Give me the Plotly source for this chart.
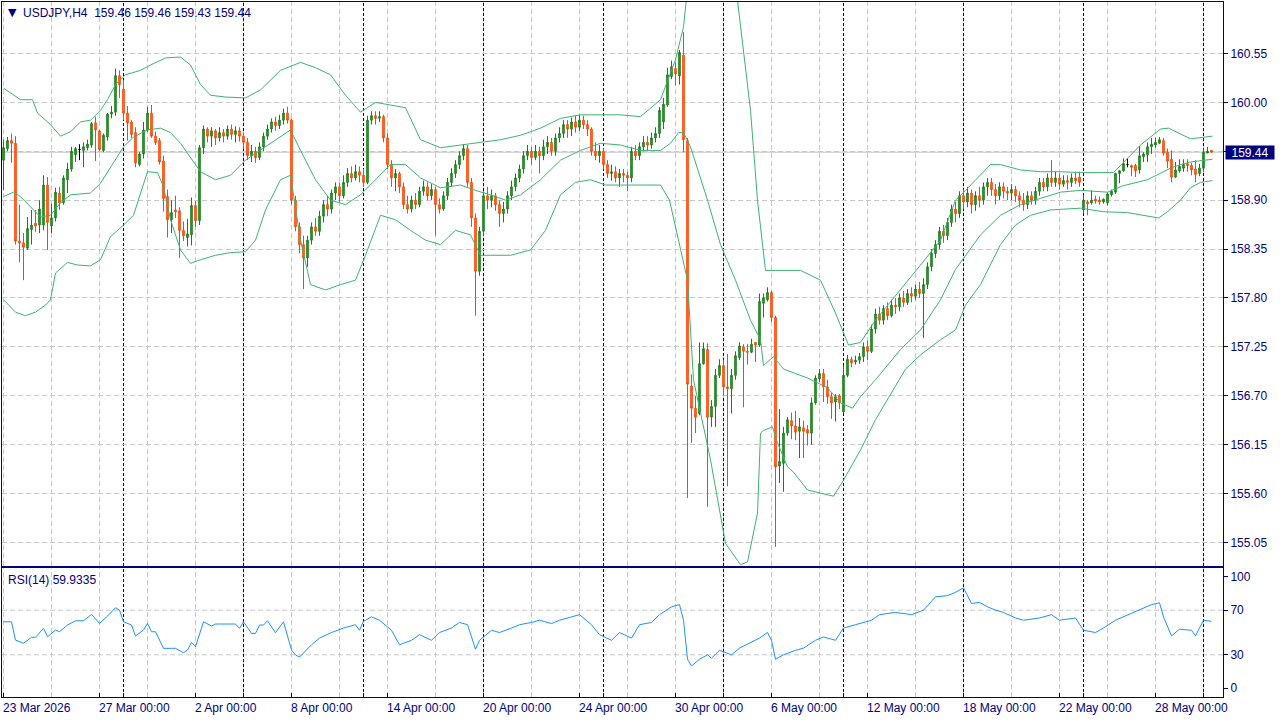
import plotly.graph_objects as go

# ---------------- data (USDJPY H4) ----------------
bar_open = [
 159.35,159.48,159.57,159.54,158.44,158.42,158.36,158.57,158.64,158.62,
 158.62,159.07,158.61,158.70,158.98,158.87,159.13,159.25,159.41,159.47,
 159.46,159.49,159.52,159.77,159.68,159.46,159.61,159.87,159.89,160.30,
 160.15,159.88,159.78,159.66,159.30,159.42,159.69,159.88,159.62,159.57,
 159.34,158.94,158.68,158.79,158.78,158.56,158.48,158.51,158.84,158.67,
 159.49,159.70,159.62,159.68,159.60,159.66,159.62,159.70,159.64,159.68,
 159.62,159.55,159.40,159.45,159.38,159.50,159.62,159.70,159.78,159.74,
 159.80,159.88,159.80,158.90,158.60,158.40,158.25,158.45,158.60,158.55,
 158.72,158.85,158.80,158.98,159.05,158.95,159.10,159.20,159.15,159.22,
 159.18,159.10,159.80,159.85,159.82,159.84,159.60,159.30,159.15,159.20,
 159.05,158.85,158.80,158.90,158.85,159.00,159.05,158.95,159.02,158.85,
 158.80,158.95,159.10,159.20,159.30,159.40,159.48,159.10,158.70,158.10,
 158.55,158.95,158.90,158.95,158.85,158.75,158.80,158.95,159.05,159.15,
 159.25,159.40,159.45,159.38,159.45,159.40,159.50,159.55,159.45,159.60,
 159.65,159.75,159.70,159.78,159.72,159.80,159.75,159.70,159.45,159.40,
 159.45,159.30,159.20,159.22,159.15,159.20,159.18,159.15,159.45,159.40,
 159.50,159.55,159.52,159.60,159.65,159.78,159.97,160.29,160.38,160.30,
 160.53,159.57,156.81,156.56,156.50,157.06,157.22,156.46,156.58,156.93,
 157.04,156.80,156.78,156.93,157.13,157.25,157.20,157.19,157.30,157.27,
 157.74,157.78,157.86,157.58,155.91,155.94,156.28,156.42,156.36,156.30,
 156.34,156.32,156.28,156.62,156.89,156.95,156.80,156.69,156.63,156.70,
 156.52,156.93,157.11,157.08,157.10,157.14,157.25,157.20,157.45,157.62,
 157.55,157.68,157.60,157.72,157.70,157.80,157.75,157.85,157.82,157.90,
 157.85,157.95,158.15,158.30,158.40,158.55,158.50,158.65,158.80,158.75,
 158.95,158.88,158.98,158.85,158.95,158.90,159.05,159.10,159.02,158.95,
 159.05,159.00,158.98,159.02,158.95,158.90,158.85,158.95,158.90,159.00,
 159.10,159.05,159.15,159.10,159.15,159.08,159.12,159.10,159.15,159.16,
 158.79,158.88,158.87,158.91,158.90,158.88,158.87,158.96,158.99,159.20,
 159.23,159.30,159.29,159.29,159.24,159.39,159.41,159.50,159.52,159.54,
 159.57,159.44,159.36,159.16,159.23,159.26,159.31,159.29,159.25,159.20,
 159.26,159.43,159.46]

bar_close = [
 159.49,159.57,159.54,158.44,158.42,158.37,158.58,158.62,158.61,158.80,
 159.07,158.65,158.70,158.99,158.87,159.15,159.25,159.45,159.48,159.47,
 159.50,159.53,159.76,159.69,159.47,159.63,159.87,159.89,160.30,160.20,
 159.88,159.77,159.64,159.32,159.42,159.69,159.88,159.62,159.55,159.33,
 158.92,158.68,158.76,158.77,158.56,158.50,158.52,158.84,158.67,159.49,
 159.70,159.62,159.68,159.60,159.66,159.62,159.70,159.64,159.68,159.62,
 159.55,159.40,159.45,159.38,159.50,159.62,159.70,159.78,159.74,159.80,
 159.88,159.80,158.90,158.60,158.40,158.25,158.45,158.60,158.55,158.72,
 158.85,158.80,158.98,159.05,158.95,159.10,159.20,159.15,159.22,159.18,
 159.10,159.80,159.85,159.82,159.84,159.60,159.30,159.15,159.20,159.05,
 158.85,158.80,158.90,158.85,159.00,159.05,158.95,159.02,158.85,158.80,
 158.95,159.10,159.20,159.30,159.40,159.48,159.10,158.70,158.10,158.55,
 158.95,158.90,158.95,158.85,158.75,158.80,158.95,159.05,159.15,159.25,
 159.40,159.45,159.38,159.45,159.40,159.50,159.55,159.45,159.60,159.65,
 159.75,159.70,159.78,159.72,159.80,159.75,159.70,159.45,159.40,159.45,
 159.30,159.20,159.22,159.15,159.20,159.18,159.15,159.45,159.40,159.50,
 159.55,159.52,159.60,159.65,159.91,159.98,160.31,160.40,160.32,160.56,
 159.58,156.83,156.56,156.46,157.06,157.23,156.46,156.58,156.93,157.04,
 156.80,156.78,156.93,157.15,157.26,157.20,157.19,157.28,157.27,157.76,
 157.80,157.86,157.58,155.90,155.96,156.28,156.43,156.36,156.29,156.35,
 156.30,156.28,156.62,156.90,156.95,156.80,156.69,156.62,156.69,156.62,
 156.93,157.11,157.07,157.10,157.14,157.25,157.20,157.45,157.62,157.55,
 157.68,157.60,157.72,157.70,157.80,157.75,157.85,157.82,157.90,157.85,
 157.95,158.15,158.30,158.40,158.55,158.50,158.65,158.80,158.75,158.95,
 158.88,158.98,158.85,158.95,158.90,159.05,159.10,159.02,158.95,159.05,
 159.00,158.98,159.02,158.95,158.90,158.85,158.95,158.90,159.00,159.10,
 159.05,159.15,159.10,159.15,159.08,159.12,159.10,159.15,159.12,159.10,
 158.90,158.86,158.90,158.89,158.88,158.91,158.97,159.00,159.20,159.23,
 159.31,159.30,159.27,159.23,159.40,159.42,159.50,159.53,159.55,159.58,
 159.43,159.34,159.16,159.24,159.28,159.30,159.29,159.24,159.19,159.26,
 159.44,159.45,159.44]

bar_high = [
 159.58,159.61,159.65,159.62,158.85,158.53,158.71,158.79,158.79,158.90,
 159.18,159.16,158.86,159.04,159.05,159.18,159.32,159.50,159.50,159.53,
 159.55,159.58,159.78,159.84,159.69,159.65,159.88,159.96,160.38,160.36,
 160.25,159.96,159.80,159.72,159.44,159.78,159.95,159.97,159.67,159.60,
 159.40,159.02,158.90,158.95,158.82,158.66,158.69,158.93,158.89,159.52,
 159.74,159.72,159.72,159.70,159.72,159.70,159.74,159.75,159.73,159.72,
 159.66,159.60,159.52,159.50,159.55,159.66,159.75,159.82,159.84,159.86,
 159.93,159.95,159.82,158.95,158.65,158.50,158.50,158.65,158.70,158.78,
 158.90,158.95,159.02,159.10,159.10,159.18,159.26,159.28,159.30,159.28,
 159.25,159.85,159.90,159.90,159.90,159.86,159.65,159.35,159.25,159.22,
 159.10,158.95,158.95,158.98,159.05,159.12,159.10,159.08,159.05,158.92,
 159.00,159.15,159.26,159.35,159.45,159.53,159.52,159.15,158.75,158.60,
 159.00,159.05,159.02,158.98,158.90,158.88,159.00,159.12,159.20,159.30,
 159.45,159.52,159.50,159.52,159.50,159.58,159.62,159.60,159.65,159.72,
 159.80,159.80,159.83,159.85,159.86,159.85,159.80,159.72,159.55,159.52,
 159.48,159.35,159.30,159.28,159.25,159.25,159.22,159.50,159.52,159.55,
 159.62,159.62,159.66,159.72,159.95,160.05,160.39,160.47,160.45,160.59,
 160.79,159.60,156.94,156.70,157.30,157.30,157.29,156.65,157.00,157.11,
 157.10,157.17,157.00,157.20,157.30,157.28,157.28,157.34,157.30,157.85,
 157.85,157.92,157.88,157.60,156.55,156.35,156.46,156.51,156.53,156.45,
 156.42,156.37,156.68,156.93,157.00,157.00,156.88,156.73,156.72,156.72,
 157.04,157.16,157.14,157.15,157.18,157.30,157.32,157.50,157.68,157.70,
 157.72,157.75,157.78,157.80,157.85,157.88,157.90,157.92,157.95,157.98,
 158.02,158.20,158.35,158.45,158.60,158.62,158.70,158.85,158.88,159.00,
 159.02,159.05,159.02,159.00,159.05,159.10,159.15,159.15,159.08,159.10,
 159.10,159.05,159.08,159.06,159.00,158.98,159.00,159.00,159.05,159.15,
 159.15,159.20,159.35,159.22,159.20,159.18,159.18,159.20,159.22,159.22,
 158.96,158.90,159.01,158.95,158.94,158.92,158.99,159.02,159.21,159.24,
 159.37,159.37,159.30,159.31,159.51,159.44,159.55,159.60,159.60,159.61,
 159.60,159.48,159.46,159.33,159.36,159.36,159.36,159.32,159.35,159.31,
 159.48,159.50,159.46]

bar_low = [
 159.01,159.45,159.32,158.40,158.20,158.00,158.34,158.40,158.54,158.53,
 158.56,158.34,158.53,158.66,158.79,158.85,158.98,159.22,159.33,159.35,
 159.27,159.46,159.49,159.34,159.45,159.44,159.57,159.82,159.85,160.05,
 159.80,159.57,159.60,159.27,159.28,159.37,159.67,159.60,159.52,159.30,
 158.77,158.48,158.53,158.70,158.25,158.44,158.38,158.39,158.60,158.62,
 159.42,159.55,159.50,159.52,159.56,159.55,159.58,159.58,159.55,159.56,
 159.48,159.35,159.33,159.32,159.35,159.45,159.58,159.66,159.68,159.70,
 159.75,159.76,158.85,158.55,158.30,157.90,158.15,158.40,158.50,158.50,
 158.65,158.72,158.75,158.90,158.88,158.92,159.05,159.10,159.12,159.10,
 159.05,159.08,159.75,159.75,159.78,159.55,159.25,159.05,159.00,158.98,
 158.80,158.75,158.76,158.80,158.82,158.95,158.90,158.90,158.50,158.75,
 158.78,158.90,159.05,159.15,159.25,159.35,159.05,158.60,157.60,158.05,
 158.50,158.80,158.82,158.78,158.60,158.65,158.75,158.90,159.00,159.10,
 159.20,159.35,159.30,159.35,159.20,159.35,159.42,159.40,159.40,159.55,
 159.60,159.60,159.62,159.66,159.68,159.70,159.62,159.40,159.35,159.32,
 159.25,159.15,159.12,159.10,159.05,159.10,159.00,159.10,159.35,159.35,
 159.45,159.45,159.48,159.55,159.60,159.70,159.95,160.26,160.19,160.20,
 159.44,155.55,156.17,156.28,156.48,157.05,155.45,156.35,156.35,156.90,
 156.70,155.68,156.50,156.88,157.10,156.57,157.05,157.18,157.08,157.25,
 157.58,157.76,157.53,155.00,155.72,155.62,156.25,156.21,156.20,156.00,
 156.00,156.14,156.15,156.60,156.85,156.63,156.61,156.44,156.41,156.55,
 156.50,156.91,157.02,157.05,157.06,157.08,157.10,157.18,157.40,157.50,
 157.50,157.55,157.58,157.62,157.65,157.70,157.72,157.75,157.78,157.80,
 157.35,157.90,158.10,158.25,158.35,158.42,158.45,158.60,158.65,158.70,
 158.80,158.82,158.75,158.78,158.82,158.85,158.95,158.95,158.85,158.90,
 158.92,158.90,158.90,158.88,158.82,158.78,158.80,158.85,158.85,158.95,
 159.00,159.00,159.05,159.05,159.02,159.05,159.02,159.05,159.08,159.05,
 158.75,158.73,158.85,158.86,158.85,158.86,158.84,158.94,158.97,159.09,
 159.22,159.27,159.17,159.16,159.20,159.33,159.33,159.42,159.49,159.53,
 159.40,159.26,159.10,159.15,159.21,159.22,159.22,159.18,159.10,159.17,
 159.22,159.43,159.43]

# Bollinger bands (20, 2) read at sample bars
bb_upper_bar = [0,4.25,7.25,8.5,11.75,14.25,16.75,19.25,21.75,24.25,26,28,30.5,34.25,36.75,40.5,44.25,46.75,
 49.25,51.75,55.5,60.5,64.25,69.25,74.25,78,81.75,85.5,89.25,93,96.75,100.5,104.25,109.25,114.25,119.25,
 124.25,129.25,134.25,139.25,144.25,149.25,154.25,159.25,164.25,168,170,171.75,174.25,178,181.25,183.5,
 185,186.75,188.5,190.5,193,199.25,204.25,208,211.25,214.25,218,224.25,229.25,234.25,238,240.5,243,
 246.75,249.25,254.25,259.25,264.25,269.25,277.5,284.25,289.25,291.25,296.75,302.25]
bb_upper = [160.16,160.03,160.03,159.88,159.75,159.62,159.67,159.78,159.80,159.91,160.03,160.20,160.31,160.36,
 160.42,160.50,160.51,160.42,160.20,160.08,160.06,160.05,160.14,160.36,160.45,160.39,160.31,160.08,159.89,
 160.00,159.97,159.94,159.58,159.49,159.52,159.55,159.58,159.63,159.71,159.82,159.86,159.86,159.86,159.84,
 160.03,160.48,160.85,161.60,162.50,162.95,162.28,161.15,160.59,159.91,158.90,158.11,158.11,158.11,158.00,
 157.63,157.27,157.30,157.55,157.89,158.17,158.45,158.90,159.01,159.13,159.30,159.30,159.24,159.22,159.22,
 159.21,159.21,159.52,159.70,159.71,159.59,159.62]

bb_middle_bar = [0,2.5,4.25,7.5,9.25,11.75,14.25,16.75,21.75,24.25,26.75,30,32.5,36,39.25,41.75,44.25,47.5,
 49.25,53,56.75,60.5,64.25,68,71.75,74.25,78,81.75,85.5,89.25,93,96.75,100.5,104.25,109.25,114.25,118,
 121.75,125.5,129.25,134.25,139.25,144.25,149.25,154.25,159.25,164.25,166.75,168.75,170,171.75,174.25,176,
 179.25,183,186.75,189.25,190,192.5,195,201,206,209.25,212.25,214.25,218,224.25,229.25,234.25,238,240.5,
 244.25,249.25,254.25,259.25,264.25,269.25,276,279.75,286,291.75,294.25,296.75,300,302.25]
bb_middle = [158.94,158.99,158.94,158.79,158.71,158.73,158.87,158.96,158.98,159.09,159.27,159.50,159.61,159.69,
 159.71,159.66,159.54,159.33,159.22,159.13,159.18,159.35,159.46,159.58,159.69,159.46,159.13,158.90,158.85,
 158.96,159.13,159.30,159.30,159.15,159.04,159.07,159.01,158.96,158.90,158.96,159.13,159.35,159.46,159.54,
 159.52,159.46,159.46,159.54,159.66,159.66,159.50,159.16,158.90,158.40,158.00,157.55,157.33,157.04,157.14,
 157.00,156.90,156.79,156.62,156.56,156.69,156.88,157.22,157.44,157.78,158.12,158.28,158.51,158.73,158.85,
 158.92,158.99,159.01,158.99,159.06,159.13,159.26,159.30,159.33,159.35,159.36]

bb_lower_bar = [0,3,5.5,8,10.5,11.75,13,16,18.5,21.75,24.25,26.75,30,32.5,36,38.5,40,41.75,44.25,46.75,49.25,
 53,56.75,60.5,63,65.5,69.25,71.75,74.25,76.75,80.5,84.25,88,90.5,94.25,98,101.75,105.5,109.25,113,116.75,
 119.25,121.75,126.75,131.75,135.5,139.25,143,146.75,150.5,154.25,159.25,164.25,166.5,171,172.5,176.75,
 180.5,184.25,186,188.5,189.25,190,192.25,193.5,196,197.5,201,207.5,210,214.25,218,221.75,225.5,229.25,
 234.25,238,240.5,244.25,249.25,253,256.75,261.75,269.25,275,281,288.75,291,294.25,296.75,299.25,302.25]
bb_lower = [157.78,157.64,157.60,157.64,157.72,157.78,158.08,158.20,158.17,158.16,158.23,158.49,158.62,158.73,
 159.22,159.21,159.05,158.68,158.34,158.19,158.23,158.28,158.31,158.32,158.45,158.79,159.13,159.18,158.45,
 157.95,157.89,157.95,158.00,158.28,158.73,158.68,158.56,158.45,158.40,158.56,158.51,158.28,158.28,158.28,
 158.34,158.56,158.96,159.10,159.13,159.07,159.07,159.07,159.07,158.90,158.00,156.88,155.98,155.04,154.80,
 154.83,155.38,156.28,156.31,156.35,156.17,155.90,155.84,155.64,155.57,155.75,156.09,156.43,156.71,157.00,
 157.16,157.33,157.44,157.72,157.95,158.40,158.62,158.73,158.79,158.81,158.77,158.76,158.70,158.77,158.90,
 159.04,159.10,159.12]

# RSI(14) read at sample bars
rsi_bar = [0,2,3,5,7,8,10,11,13,14,16,18,20,22,24,26,28,29,30,32,33,35,36,37,38,40,42,43,45,46,47,48,50,52,53,
 58,59,60,62,63,64,65,66,68,70,72,73,74,77,79,82,85,88,89,90,92,94,97,99,102,104,107,109,112,114,116,118,
 119,122,124,127,129,132,134,137,139,142,144,147,149,152,154,157,159,162,164,167,169,170,171,172,174,176,
 177,179,182,184,187,189,191,192,193,195,198,200,203,205,208,210,213,217,219,223,227,230,233,236,238,240,
 242,244,246,248,250,253,255,259,262,264,268,270,273,275,278,280,284,287,289,290,292,294,297,298,300,302]
rsi_value = [59.6,59.6,43.2,40.3,45.7,45.7,53.7,46.2,52.2,50.7,56.7,60.5,60.5,66.2,58.2,64.7,72.2,70.1,59.6,
 56.7,46.8,52.2,58.2,50.7,50.7,35.8,35.8,35.8,31.9,34.3,41.2,37.2,59.6,55.8,57.6,57.6,53.7,59.6,49.2,49.2,
 56.7,56.7,60.5,49.8,59.6,34.3,29.8,28,39,45,50,54,57,52,60,64,61,52,39,43,48,43,50,54,59,57,35,
 43,52,50,54,57,59,61,58,61,64,66,57,48,43,50,45,57,59,66,73,75,61,26,20,26,30,
 27,34,30,36,41,45,50,43,26,30,34,36,43,46,43,54,57,61,66,68,66,70,82,83,86,90,
 76,77,73,70,68,63,61,63,66,61,63,52,50,54,61,64,70,75,76.6,64,47,53,52,47,61,60]

# axes / labels
price_ticks = [155.05,155.60,156.15,156.70,157.25,157.80,158.35,158.90,159.45,160.00,160.55]
rsi_ticks = [0,30,70,100]
rsi_levels = [30,70]
time_label_bars = [0,24,48,72,96,120,144,168,192,216,240,264,288]
time_labels = ["23 Mar 2026","27 Mar 00:00","2 Apr 00:00","8 Apr 00:00","14 Apr 00:00","20 Apr 00:00",
               "24 Apr 00:00","30 Apr 00:00","6 May 00:00","12 May 00:00","18 May 00:00","22 May 00:00",
               "28 May 00:00"]
week_sep_bars = [30,60,90,120,150,180,210,240,270,300]
grid_bars = list(range(0, 301, 12))
last_price = 159.44
header = "USDJPY,H4  159.46 159.46 159.43 159.44"
rsi_header = "RSI(14) 59.9335"

# ---------------- styling ----------------
NAVY = "#000080"
FONT = "Liberation Sans"
BULL_LINE, BULL_FILL = "#1a7d1a", "#27a827"
BEAR_LINE, BEAR_FILL = "#ff4000", "#ff7a1a"
BAND = "#3cb371"
GRID = "#c8c8c8"
X_RANGE = [-0.375, 304.875]   # 4 px per bar, bar centres on pixel centres

bars = list(range(len(bar_close)))
inc = [i for i in bars if bar_close[i] > bar_open[i]]
dec = [i for i in bars if bar_close[i] < bar_open[i]]
doj = [i for i in bars if bar_close[i] == bar_open[i]]


def candles(idx, lc, fc):
    sty = dict(line=dict(color=lc, width=1), fillcolor=fc)
    return go.Candlestick(
        x=[bars[i] for i in idx], open=[bar_open[i] for i in idx],
        high=[bar_high[i] for i in idx], low=[bar_low[i] for i in idx],
        close=[bar_close[i] for i in idx], increasing=sty, decreasing=sty,
        whiskerwidth=0, xaxis="x", yaxis="y", hoverinfo="skip", showlegend=False)


fig = go.Figure()
for xs, ys in ((bb_upper_bar, bb_upper), (bb_middle_bar, bb_middle), (bb_lower_bar, bb_lower)):
    fig.add_trace(go.Scatter(x=xs, y=ys, mode="lines", line=dict(color=BAND, width=1),
                             xaxis="x", yaxis="y", hoverinfo="skip", showlegend=False))
fig.add_trace(candles(inc, BULL_LINE, BULL_FILL))
fig.add_trace(candles(dec, BEAR_LINE, BEAR_FILL))
fig.add_trace(candles(doj, "#000000", "#000000"))
fig.add_trace(go.Scatter(x=rsi_bar, y=rsi_value, mode="lines", line=dict(color="#1e90ff", width=1),
                         xaxis="x2", yaxis="y2", hoverinfo="skip", showlegend=False))

shapes = []
for b in grid_bars:
    for yr in ("y domain", "y2 domain"):
        shapes.append(dict(type="line", xref="x", yref=yr, x0=b, x1=b, y0=0, y1=1, layer="below",
                           line=dict(color=GRID, width=1, dash="5px,3px")))
for lv in rsi_levels:
    shapes.append(dict(type="line", xref="x domain", yref="y2", x0=0, x1=1, y0=lv, y1=lv, layer="below",
                       line=dict(color=GRID, width=1, dash="5px,3px")))
shapes.append(dict(type="line", xref="x domain", yref="y", x0=0, x1=1, y0=last_price, y1=last_price,
                   layer="below", line=dict(color="#c0c0c0", width=1)))
for b in week_sep_bars:
    for yr in ("y domain", "y2 domain"):
        shapes.append(dict(type="line", xref="x", yref=yr, x0=b, x1=b, y0=0, y1=1, layer="below",
                           line=dict(color="#00006e", width=1, dash="3px,2px")))

annotations = []
for b, t in zip(time_label_bars, time_labels):
    annotations.append(dict(x=b, xref="x2", y=0, yref="paper", text=t, showarrow=False,
                            xanchor="left", yanchor="top", xshift=-3, yshift=-2,
                            font=dict(family=FONT, size=12, color=NAVY)))
annotations.append(dict(x=0.003, xref="paper", y=1, yref="paper", text="▼", showarrow=False,
                        xanchor="left", yanchor="top", yshift=-2, font=dict(family="DejaVu Sans", size=11, color=NAVY)))
annotations.append(dict(x=0.0155, xref="paper", y=1, yref="paper", text=header, showarrow=False,
                        xanchor="left", yanchor="top", yshift=-2, font=dict(family=FONT, size=12, color=NAVY)))
annotations.append(dict(x=0.003, xref="paper", y=0.18561, yref="paper", text=rsi_header, showarrow=False,
                        xanchor="left", yanchor="top", yshift=-3, font=dict(family=FONT, size=12, color=NAVY)))
annotations.append(dict(x=1.0016, xref="paper", y=last_price, yref="y", text="159.44", showarrow=False,
                        xanchor="left", yanchor="middle", bgcolor=NAVY, width=46, height=11, borderpad=1,
                        font=dict(family=FONT, size=12, color="white")))

axis_common = dict(showline=True, mirror=True, linecolor=NAVY, linewidth=1, zeroline=False)
fig.update_layout(
    width=1280, height=720, margin=dict(l=2, r=57, t=2, b=23),
    paper_bgcolor="white", plot_bgcolor="white", showlegend=False, hovermode=False,
    boxgap=0.45,
    xaxis=dict(range=X_RANGE, anchor="y", showticklabels=False, ticks="", showgrid=False,
               rangeslider=dict(visible=False), **axis_common),
    xaxis2=dict(range=X_RANGE, anchor="y2", matches="x", showticklabels=False, ticks="inside",
                ticklen=4, tickcolor=NAVY, tickvals=sorted(set(time_label_bars + week_sep_bars)),
                showgrid=False, **axis_common),
    yaxis=dict(domain=[0.18849, 1.0], range=[154.785, 161.129], side="right", tickvals=price_ticks,
               tickformat=".2f", ticks="outside", ticklen=4, tickcolor=NAVY, showgrid=True,
               gridcolor=GRID, griddash="5px,3px", tickfont=dict(family=FONT, size=12, color=NAVY),
               anchor="x", **axis_common),
    yaxis2=dict(domain=[0.0, 0.18561], range=[-7.8, 107.8], side="right", tickvals=rsi_ticks,
                ticks="outside", ticklen=4, tickcolor=NAVY, showgrid=False,
                tickfont=dict(family=FONT, size=12, color=NAVY), anchor="x2", **axis_common),
    shapes=shapes, annotations=annotations,
)

fig.write_html("out.html")
